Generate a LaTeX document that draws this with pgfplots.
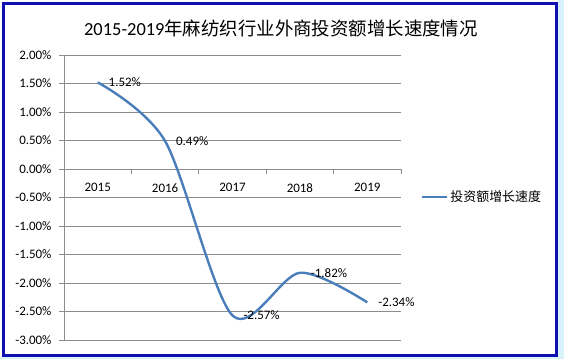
\documentclass[border=0pt]{standalone}
\usepackage{pgfplots}
\pgfplotsset{compat=1.18}
\usepackage{fontspec}
\setmainfont{Carlito}
\newfontfamily\cjk{Noto Sans CJK SC}
\definecolor{lineblue}{RGB}{74,126,187}
\definecolor{gridgray}{RGB}{140,140,140}
\definecolor{frameblue}{RGB}{15,15,180}
\begin{document}
\begin{tikzpicture}[x=1bp,y=1bp]
\path[use as bounding box] (0,0) rectangle (564,359);
\fill[white] (0,0) rectangle (564,359);
\fill[cyan!15] (558,0) rectangle (564,359);
\fill[cyan!15] (0,0) rectangle (564,2);
\draw[frameblue, line width=2.5bp] (3.5,3.5) rectangle (556.5,355.5);
\node[font=\fontsize{18.5}{20}\selectfont] at (281,331) {2015-2019{\cjk 年麻纺织行业外商投资额增长速度情况}};
\begin{axis}[
  at={(64bp,19bp)}, anchor=south west, scale only axis,
  width=337bp, height=285bp,
  xmin=-0.5, xmax=4.5, ymin=-3, ymax=2,
  axis x line=middle, axis y line=left,
  axis line style={-, draw=gridgray, line width=0.8bp},
  ytick={-3,-2.5,...,2},
  yticklabels={-3.00\%,-2.50\%,-2.00\%,-1.50\%,-1.00\%,-0.50\%,0.00\%,0.50\%,1.00\%,1.50\%,2.00\%},
  ymajorgrids, major grid style={gridgray, line width=0.8bp},
  tick align=outside, major tick length=5bp, tick style={gridgray, line width=0.8bp},
  xtick={0.5,1.5,2.5,3.5,4.5}, xticklabels={},
  extra x ticks={0,1,2,3,4}, extra x tick labels={2015,2016,2017,2018,2019},
  extra x tick style={major tick length=0pt},
  ticklabel style={font=\fontsize{13}{15}\selectfont, text=black},
  xticklabel style={yshift=-11bp},
  yticklabel style={xshift=-4bp},
  clip=false,
  nodes near coords, point meta=explicit symbolic,
  nodes near coords style={anchor=west, xshift=6.5bp, font=\fontsize{13}{15}\selectfont, text=black},
  legend style={at={(1.05,0.502)}, anchor=west, draw=none, fill=none, font=\fontsize{13}{15}\selectfont},
  legend cell align=left,
  legend image code/.code={\draw[#1] (0bp,0bp) -- (25bp,0bp);},
]
\addplot[lineblue, line width=2.4bp, smooth, mark=none] coordinates {
  (0,1.52)[1.52\%] (1,0.49)[0.49\%] (2,-2.57)[-2.57\%] (3,-1.82)[-1.82\%] (4,-2.34)[-2.34\%]};
\addlegendentry{\cjk 投资额增长速度}
\end{axis}
\end{tikzpicture}
\end{document}
